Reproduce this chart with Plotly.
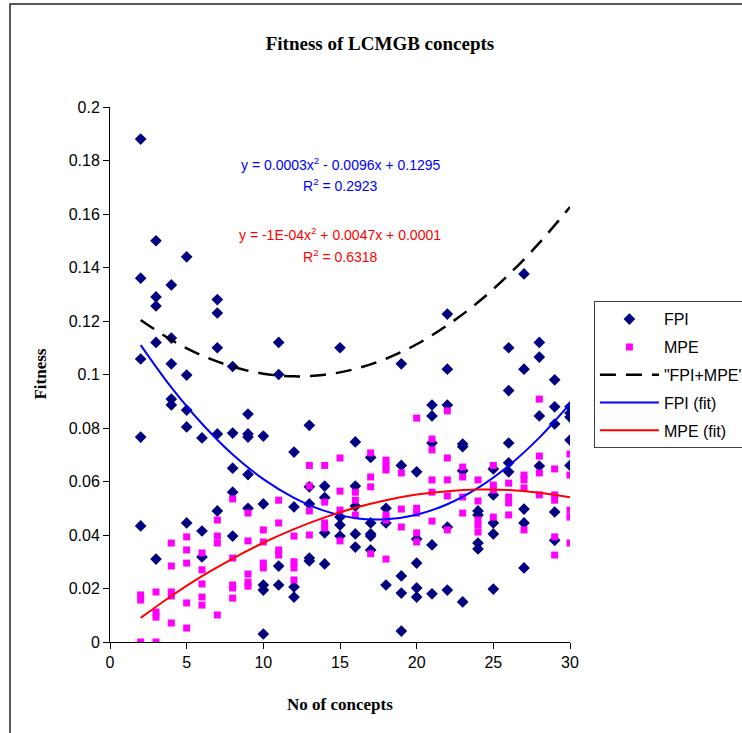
import plotly.graph_objects as go

# ---------------- data ----------------
fpi_x = ([2]*5 + [3]*5 + [4]*5 + [5]*5 + [6]*3 + [7]*5 + [8]*5 + [9]*5 + [10]*5 + [11]*4 +
         [12]*4 + [13]*5 + [14]*4 + [15]*4 + [16]*5 + [17]*5 + [18]*3 + [19]*5 + [20]*5 +
         [21]*5 + [22]*5 + [23]*4 + [24]*4 + [25]*5 + [26]*5 + [27]*5 + [28]*4 + [29]*5 + [30]*5)
fpi_y = [0.188, 0.136, 0.1058, 0.0766, 0.0434,
         0.150, 0.129, 0.1256, 0.112, 0.031,
         0.1335, 0.1136, 0.104, 0.0908, 0.0886,
         0.144, 0.0998, 0.0867, 0.0804, 0.0445,
         0.0763, 0.0415, 0.0318,
         0.128, 0.123, 0.110, 0.0778, 0.049,
         0.103, 0.0781, 0.065, 0.056, 0.0396,
         0.0852, 0.0778, 0.0766, 0.0626, 0.050,
         0.077, 0.0516, 0.0213, 0.0194, 0.003,
         0.112, 0.100, 0.0284, 0.0213,
         0.071, 0.0505, 0.0206, 0.0168,
         0.081, 0.058, 0.0516, 0.0314, 0.0303,
         0.0583, 0.054, 0.0408, 0.0292,
         0.110, 0.0467, 0.0437, 0.0396,
         0.0748, 0.0583, 0.0508, 0.0404, 0.0355,
         0.069, 0.0445, 0.0404, 0.0396, 0.0344,
         0.050, 0.0445, 0.0213,
         0.104, 0.066, 0.0247, 0.0183, 0.0041,
         0.0636, 0.0385, 0.0295, 0.0202, 0.0168,
         0.0886, 0.0845, 0.0744, 0.0363, 0.018,
         0.1226, 0.102, 0.0886, 0.043, 0.0194,
         0.074, 0.073, 0.064, 0.015,
         0.049, 0.0475, 0.037, 0.0348,
         0.0647, 0.055, 0.0445, 0.0404, 0.0198,
         0.110, 0.094, 0.0744, 0.067, 0.0636,
         0.1376, 0.102, 0.0497, 0.0445, 0.0277,
         0.112, 0.1065, 0.0845, 0.0658,
         0.098, 0.0879, 0.0815, 0.0486, 0.038,
         0.0879, 0.0856, 0.0841, 0.0755, 0.066]

mpe_x = ([2]*3 + [3]*4 + [4]*5 + [5]*5 + [6]*5 + [7]*4 + [8]*5 + [9]*5 + [10]*4 + [11]*4 +
         [12]*4 + [13]*4 + [14]*4 + [15]*4 + [16]*3 + [17]*4 + [18]*6 + [19]*3 + [20]*5 +
         [21]*5 + [22]*5 + [23]*4 + [24]*5 + [25]*4 + [26]*4 + [27]*4 + [28]*4 + [29]*5 + [30]*5)
mpe_y = [0.0176, 0.0157, 0.0,
         0.0187, 0.0112, 0.0093, 0.0,
         0.037, 0.0284, 0.0187, 0.0172, 0.0071,
         0.0393, 0.0344, 0.0295, 0.0146, 0.0052,
         0.0333, 0.027, 0.0217, 0.0168, 0.0138,
         0.0456, 0.0396, 0.037, 0.0101,
         0.0535, 0.0314, 0.0213, 0.0202, 0.0164,
         0.0482, 0.0378, 0.0254, 0.0224, 0.0209,
         0.0419, 0.0374, 0.0295, 0.0277,
         0.053, 0.0445, 0.0344, 0.0325,
         0.0396, 0.030, 0.0277, 0.0232,
         0.066, 0.0583, 0.049, 0.040,
         0.066, 0.0523, 0.0445, 0.0426,
         0.0688, 0.0564, 0.0493, 0.0378,
         0.056, 0.053, 0.0475,
         0.0707, 0.0617, 0.058, 0.033,
         0.068, 0.066, 0.0643, 0.0475, 0.0456, 0.031,
         0.0632, 0.0497, 0.043,
         0.0837, 0.050, 0.0482, 0.0408, 0.0374,
         0.0759, 0.0718, 0.0606, 0.056, 0.0452,
         0.0864, 0.0688, 0.0606, 0.0546, 0.0419,
         0.0654, 0.0617, 0.0542, 0.0482,
         0.0606, 0.0527, 0.0456, 0.0437, 0.0411,
         0.066, 0.0587, 0.0568, 0.0467,
         0.0594, 0.0542, 0.052, 0.0475,
         0.0624, 0.0606, 0.0576, 0.0419,
         0.0908, 0.0695, 0.0632, 0.055,
         0.0647, 0.055, 0.053, 0.0393, 0.0325,
         0.0703, 0.0624, 0.0493, 0.0467, 0.037]

# trend curves at these x positions
curve_x = [2, 4, 6, 8, 10, 12, 14, 16, 18, 20, 22, 24, 26, 28, 30]
sum_fit = [0.1204, 0.1129, 0.1071, 0.1029, 0.1003, 0.0993, 0.0999, 0.1021,
           0.1059, 0.1113, 0.1184, 0.1270, 0.1373, 0.1492, 0.1626]
fpi_fit = [0.1110, 0.0952, 0.0816, 0.0701, 0.0609, 0.0539, 0.0490, 0.0463,
           0.0459, 0.0476, 0.0515, 0.0576, 0.0659, 0.0764, 0.0891]
mpe_fit = [0.0090, 0.0172, 0.0246, 0.0312, 0.0371, 0.0422, 0.0466, 0.0502,
           0.0530, 0.0551, 0.0564, 0.0570, 0.0568, 0.0558, 0.0541]

x_ticks = [0, 5, 10, 15, 20, 25, 30]
y_ticks = [0, 0.02, 0.04, 0.06, 0.08, 0.1, 0.12, 0.14, 0.16, 0.18, 0.2]
y_tick_labels = ["0", "0.02", "0.04", "0.06", "0.08", "0.1", "0.12", "0.14", "0.16", "0.18", "0.2"]

SANS = "Liberation Sans, Arial, sans-serif"
SERIF = "Liberation Serif, Times New Roman, serif"

fig = go.Figure()
fig.add_trace(go.Scatter(x=fpi_x, y=fpi_y, mode="markers", name="FPI", legendgroup="a",
                         marker=dict(symbol="diamond", size=9, color="#000080")))
fig.add_trace(go.Scatter(x=mpe_x, y=mpe_y, mode="markers", name="MPE", legendgroup="b",
                         marker=dict(symbol="square", size=7, color="#FF00FF")))
fig.add_trace(go.Scatter(x=curve_x, y=sum_fit, mode="lines", name='"FPI+MPE"', legendgroup="c",
                         line=dict(color="black", width=2.5, dash="16px,10px", shape="spline")))
fig.add_trace(go.Scatter(x=curve_x, y=fpi_fit, mode="lines", name="FPI (fit)", legendgroup="d",
                         line=dict(color="#0000FF", width=2, shape="spline")))
fig.add_trace(go.Scatter(x=curve_x, y=mpe_fit, mode="lines", name="MPE (fit)", legendgroup="e",
                         line=dict(color="#FF0000", width=2, shape="spline")))

fig.update_layout(
    width=742, height=733,
    margin=dict(l=110, r=172, t=107, b=91, autoexpand=False),
    paper_bgcolor="white", plot_bgcolor="white",
    showlegend=True,
    title=dict(text="<b>Fitness of LCMGB concepts</b>", x=380/742, xref="container",
               y=1 - 43/733, yref="container", xanchor="center", yanchor="middle",
               font=dict(family=SERIF, size=19, color="black")),
    legend=dict(x=1.052, y=0.637, xanchor="left", yanchor="top",
                bordercolor="#404040", borderwidth=1, bgcolor="white",
                font=dict(family=SANS, size=16, color="black"),
                tracegroupgap=4, itemwidth=59),
    xaxis=dict(range=[0, 30], tickvals=x_ticks, showline=True, linecolor="black",
               linewidth=1, ticks="outside", ticklen=6, tickcolor="black",
               showgrid=False, zeroline=False,
               tickfont=dict(family=SANS, size=16, color="black")),
    yaxis=dict(range=[0, 0.2], tickvals=y_ticks, ticktext=y_tick_labels, showline=True,
               linecolor="black", linewidth=1, ticks="outside", ticklen=6,
               tickcolor="black", showgrid=False, zeroline=False,
               tickfont=dict(family=SANS, size=16, color="black")),
)

fig.add_annotation(text="<b>Fitness</b>", xref="paper", yref="paper", x=-0.152, y=0.5,
                   textangle=-90, showarrow=False, xanchor="center", yanchor="middle",
                   font=dict(family=SERIF, size=17, color="black"))
fig.add_annotation(text="<b>No of concepts</b>", xref="paper", yref="paper", x=0.5, y=-0.116,
                   showarrow=False, xanchor="center", yanchor="middle",
                   font=dict(family=SERIF, size=17, color="black"))

eq_font_b = dict(family=SANS, size=14, color="#0000FF")
eq_font_r = dict(family=SANS, size=14, color="#FF0000")
fig.add_annotation(text="y = 0.0003x<sup>2</sup> - 0.0096x + 0.1295", xref="paper", yref="y",
                   x=0.5, y=0.1787, showarrow=False, font=eq_font_b)
fig.add_annotation(text="R<sup>2</sup> = 0.2923", xref="paper", yref="y",
                   x=0.5, y=0.1708, showarrow=False, font=eq_font_b)
fig.add_annotation(text="y = -1E-04x<sup>2</sup> + 0.0047x + 0.0001", xref="paper", yref="y",
                   x=0.5, y=0.1525, showarrow=False, font=eq_font_r)
fig.add_annotation(text="R<sup>2</sup> = 0.6318", xref="paper", yref="y",
                   x=0.5, y=0.1443, showarrow=False, font=eq_font_r)

# outer chart frame (partly outside the picture, as in the reference)
fig.add_shape(type="rect", xref="paper", yref="paper",
              x0=-0.2174, x1=1.45, y0=-0.25, y1=1.1925,
              line=dict(color="#222222", width=1.5), fillcolor="rgba(0,0,0,0)", layer="below")

# remove the default 8px page margin so the figure starts at the window's corner
fig.write_html("out.html", config={"displayModeBar": False},
               post_script="document.body.style.margin='0';document.body.style.overflow='hidden';")
